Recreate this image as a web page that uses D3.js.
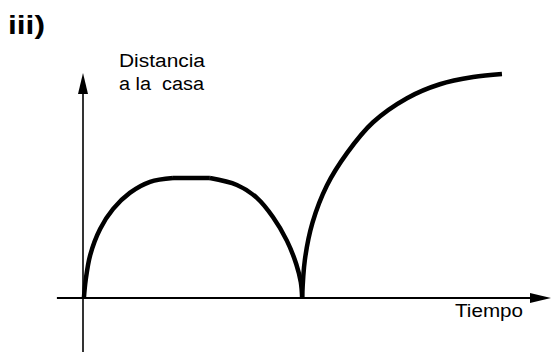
<!DOCTYPE html>
<meta charset="utf-8">
<style>

body {
  margin: 0;
  background: #fff;
}

.axis-line {
  stroke: #000;
  stroke-width: 2px;
}

.trip {
  fill: none;
  stroke: #000;
  stroke-width: 4.5px;
}

.label {
  font-family: "Liberation Sans", Arial, sans-serif;
  font-size: 18px;
  fill: #000;
  white-space: pre;
}

.panel {
  font-family: "Liberation Sans", Arial, sans-serif;
  font-size: 25px;
  font-weight: bold;
}

</style>
<svg width="551" height="356"></svg>
<script src="https://cdn.jsdelivr.net/npm/d3@7"></script>
<script>

// time (t) vs distance to home (d)
var tripOut = [
  [0.02, 0], [0.06, 0.8], [0.16, 1.91], [0.38, 3.07], [0.67, 3.96],
  [1.04, 4.67], [1.49, 5.16], [2.0, 5.33]
];
var stay = [[2.0, 5.33], [2.82, 5.33]];
var tripBack = [
  [2.82, 5.33], [3.42, 5.02], [3.87, 4.44], [4.22, 3.6],
  [4.53, 2.55], [4.74, 1.5], [4.84, 0.7], [4.87, 0]
];
var tripAway = [
  [4.87, 0], [4.93, 1.69], [5.1, 3.35], [5.42, 5.0], [5.87, 6.45],
  [6.44, 7.8], [7.2, 8.88], [7.93, 9.5], [8.67, 9.82], [9.31, 9.96]
];

var xExtent = [-0.58, 10.4],
    yExtent = [-2.4, 10];

var svg = d3.select("svg");

var x = d3.scaleLinear().domain([0, 10]).range([83, 533]),
    y = d3.scaleLinear().domain([0, 10]).range([298, 73]);

// axes
svg.append("line")
    .attr("class", "axis-line")
    .attr("x1", x(xExtent[0])).attr("x2", x(xExtent[1]) - 10)
    .attr("y1", y(0)).attr("y2", y(0));

svg.append("line")
    .attr("class", "axis-line")
    .style("stroke-width", "1.6px")
    .attr("x1", x(0)).attr("x2", x(0))
    .attr("y1", y(yExtent[0])).attr("y2", y(yExtent[1]) + 10);

// arrow heads
svg.append("path")
    .attr("d", "M" + x(xExtent[1]) + "," + y(0)
      + "L" + (x(xExtent[1]) - 21) + "," + (y(0) - 5)
      + "L" + (x(xExtent[1]) - 21) + "," + (y(0) + 5) + "Z")
    .attr("fill", "#000");

svg.append("path")
    .attr("d", "M" + x(0) + "," + y(yExtent[1])
      + "L" + (x(0) - 5) + "," + (y(yExtent[1]) + 21)
      + "L" + (x(0) + 5) + "," + (y(yExtent[1]) + 21) + "Z")
    .attr("fill", "#000");

var line = d3.line()
    .x(function(d) { return x(d[0]); })
    .y(function(d) { return y(d[1]); })
    .curve(d3.curveCatmullRom.alpha(0.5));

svg.selectAll(".trip")
    .data([tripOut, stay, tripBack, tripAway])
  .enter().append("path")
    .attr("class", "trip")
    .attr("d", line);

// texts
svg.append("text")
    .attr("class", "panel")
    .attr("x", 8).attr("y", 34)
    .attr("textLength", 37)
    .attr("lengthAdjust", "spacingAndGlyphs")
    .text("iii)");

svg.append("text")
    .attr("class", "label")
    .attr("x", 119).attr("y", 67)
    .attr("textLength", 86)
    .attr("lengthAdjust", "spacingAndGlyphs")
    .text("Distancia");

svg.append("text")
    .attr("class", "label")
    .attr("x", 119).attr("y", 90)
    .attr("textLength", 85)
    .attr("lengthAdjust", "spacingAndGlyphs")
    .text("a la  casa");

svg.append("text")
    .attr("class", "label")
    .attr("x", 455).attr("y", 317)
    .attr("textLength", 68)
    .attr("lengthAdjust", "spacingAndGlyphs")
    .text("Tiempo");

</script>
